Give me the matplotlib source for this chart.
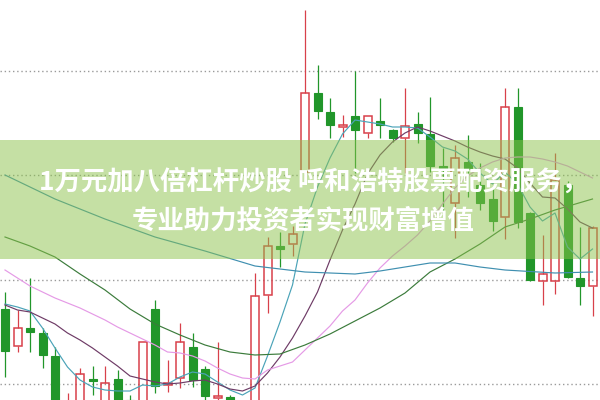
import matplotlib.pyplot as plt
from matplotlib.patches import Rectangle

plt.rcParams['font.family'] = ['Noto Sans CJK SC', 'DejaVu Sans']

# daily k-line, 48 sessions (price units, chart is cropped at 5.0 - 9.0)
opens = [5.91, 5.54, 5.72, 5.67, 5.44, 4.60, 4.70, 5.21, 4.80, 5.21,
         5.00, 4.70, 5.91, 5.15, 5.22, 5.53, 5.31, 5.02, 5.03, 4.60,
         4.70, 6.05, 6.54, 6.56, 7.28, 8.07, 7.88, 7.73, 7.84, 7.67,
         7.79, 7.70, 7.62, 7.76, 7.66, 7.34, 6.97, 7.38, 7.15, 7.01,
         6.83, 7.93, 6.87, 6.19, 6.19, 7.15, 6.22, 6.14]
closes = [5.49, 5.72, 5.68, 5.45, 4.80, 4.85, 5.26, 5.19, 5.17, 4.85,
          4.80, 5.58, 5.14, 5.17, 5.58, 5.20, 5.04, 5.04, 4.80, 4.80,
          6.04, 6.54, 6.51, 6.66, 8.07, 7.89, 7.75, 7.75, 7.70, 7.84,
          7.75, 7.62, 7.74, 7.67, 7.34, 7.30, 7.42, 7.31, 6.97, 6.79,
          7.93, 6.78, 6.20, 6.26, 7.20, 6.23, 6.14, 6.72]
highs = [6.08, 5.90, 6.22, 5.72, 5.53, 5.07, 5.32, 5.34, 5.34, 5.30,
         5.05, 5.58, 6.00, 5.40, 5.77, 5.67, 5.34, 5.58, 5.05, 4.90,
         6.27, 6.63, 6.68, 6.74, 8.90, 8.35, 8.02, 7.85, 8.29, 7.84,
         8.02, 7.71, 8.12, 7.88, 8.03, 7.52, 7.55, 7.65, 7.37, 7.13,
         8.12, 8.12, 6.88, 6.65, 7.47, 7.19, 6.73, 6.74]
lows = [5.23, 5.48, 5.48, 5.32, 4.70, 4.50, 4.60, 5.05, 4.70, 4.75,
        4.70, 4.60, 5.07, 5.08, 5.12, 5.13, 5.00, 4.90, 4.70, 4.50,
        4.60, 5.87, 6.33, 6.44, 7.22, 7.81, 7.62, 7.63, 7.27, 7.62,
        7.62, 7.58, 7.27, 7.57, 7.28, 6.88, 6.62, 7.03, 6.90, 6.69,
        6.61, 6.72, 6.19, 5.95, 6.06, 6.22, 5.95, 5.84]

# moving averages
ma5 = [5.96, 5.93, 5.89, 5.72, 5.52, 5.33, 5.20, 5.13, 5.10, 5.09,
       5.09, 5.15, 5.14, 5.16, 5.23, 5.28, 5.26, 5.18, 5.10, 5.05,
       5.12, 5.44, 5.78, 6.15, 6.76, 7.13, 7.42, 7.66, 7.80, 7.78,
       7.76, 7.73, 7.73, 7.72, 7.63, 7.53, 7.49, 7.41, 7.27, 7.16,
       7.28, 7.16, 6.93, 6.79, 6.87, 6.53, 6.41, 6.51]
ma10 = [5.95, 5.90, 5.88, 5.82, 5.76, 5.67, 5.60, 5.52, 5.43, 5.34,
        5.24, 5.21, 5.18, 5.16, 5.17, 5.19, 5.20, 5.16, 5.11, 5.09,
        5.14, 5.27, 5.43, 5.62, 5.84, 6.08, 6.40, 6.70, 6.96, 7.26,
        7.45, 7.58, 7.67, 7.73, 7.69, 7.64, 7.59, 7.53, 7.48, 7.44,
        7.41, 7.32, 7.17, 7.03, 7.02, 6.91, 6.78, 6.72]
ma20 = [6.30, 6.22, 6.14, 6.08, 6.02, 5.97, 5.92, 5.86, 5.80, 5.73,
        5.67, 5.61, 5.55, 5.48, 5.47, 5.44, 5.39, 5.32, 5.26, 5.22,
        5.21, 5.30, 5.34, 5.38, 5.50, 5.62, 5.74, 5.89, 6.00, 6.17,
        6.32, 6.44, 6.54, 6.65, 6.79, 6.96, 7.12, 7.24, 7.32, 7.38,
        7.42, 7.43, 7.43, 7.41, 7.38, 7.34, 7.28, 7.22]
ma30_x = [0, 2, 4, 6, 8, 10, 12, 14, 16, 18, 20, 22, 24, 26, 28, 30, 32, 34,
          36, 38, 40, 42, 44, 47]
ma30 = [6.63, 6.54, 6.43, 6.26, 6.10, 5.91, 5.76, 5.65, 5.55, 5.48, 5.45, 5.46,
        5.55, 5.66, 5.79, 5.92, 6.07, 6.28, 6.41, 6.56, 6.73, 6.81, 6.90, 7.01]
ma60_x = [0, 4, 8, 12, 16, 20, 24, 28, 30, 32, 34, 36, 38, 40, 44, 47]
ma60 = [7.25, 7.01, 6.81, 6.63, 6.49, 6.34, 6.28, 6.26, 6.29, 6.33, 6.37, 6.37,
        6.33, 6.30, 6.27, 6.28]

grid_levels = [8.295, 7.25, 6.205, 5.165]
title_lines = ["1万元加八倍杠杆炒股 呼和浩特股票配资服务，", "专业助力投资者实现财富增值"]

red = "#d8404a"
green = "#21962a"

fig = plt.figure(figsize=(6, 4), dpi=100)
ax = fig.add_axes([0, 0, 1, 1])
ax.set_xlim(-0.4, len(opens) - 0.4)
ax.set_ylim(5.0, 9.0)
ax.axis('off')

for g in grid_levels:
    ax.axhline(g, color="#9a9a9a", lw=1, ls=(0, (1, 2)), zorder=1)

w = 0.64
for i in range(len(opens)):
    o, c, h, l = opens[i], closes[i], highs[i], lows[i]
    top, bot = max(o, c), min(o, c)
    if c >= o:
        # rising day: hollow red box, wicks outside the box
        ax.vlines(i, top, h, color=red, lw=0.9, zorder=2)
        ax.vlines(i, l, bot, color=red, lw=0.9, zorder=2)
        ax.add_patch(Rectangle((i - w / 2, bot), w, max(top - bot, 0.004),
                               facecolor="none", edgecolor=red, lw=1.1, zorder=3))
    else:
        ax.vlines(i, l, h, color=green, lw=0.9, zorder=2)
        ax.add_patch(Rectangle((i - w / 2, bot), w, max(top - bot, 0.004),
                               facecolor=green, edgecolor=green, lw=0.8, zorder=3))

ax.plot(range(len(ma5)), ma5, color="#4aa3b8", lw=0.85, zorder=4)
ax.plot(range(len(ma10)), ma10, color="#6e3b66", lw=0.85, zorder=4)
ax.plot(range(len(ma20)), ma20, color="#e59ae6", lw=0.85, zorder=4)
ax.plot(ma30_x, ma30, color="#3b7b3b", lw=0.85, zorder=4)
ax.plot(ma60_x, ma60, color="#3f8fb0", lw=0.85, zorder=4)

# translucent green banner over the chart
ax.axhspan(6.41, 7.60, color="#8cc34b", alpha=0.5, lw=0, zorder=5)
fig.text(0.522, 1 - 182 / 400, title_lines[0], ha='center', va='center',
         fontsize=19, fontweight='bold', color='white', zorder=6)
fig.text(0.506, 1 - 221 / 400, title_lines[1], ha='center', va='center',
         fontsize=19, fontweight='bold', color='white', zorder=6)

fig.savefig("out.png", dpi=100)
